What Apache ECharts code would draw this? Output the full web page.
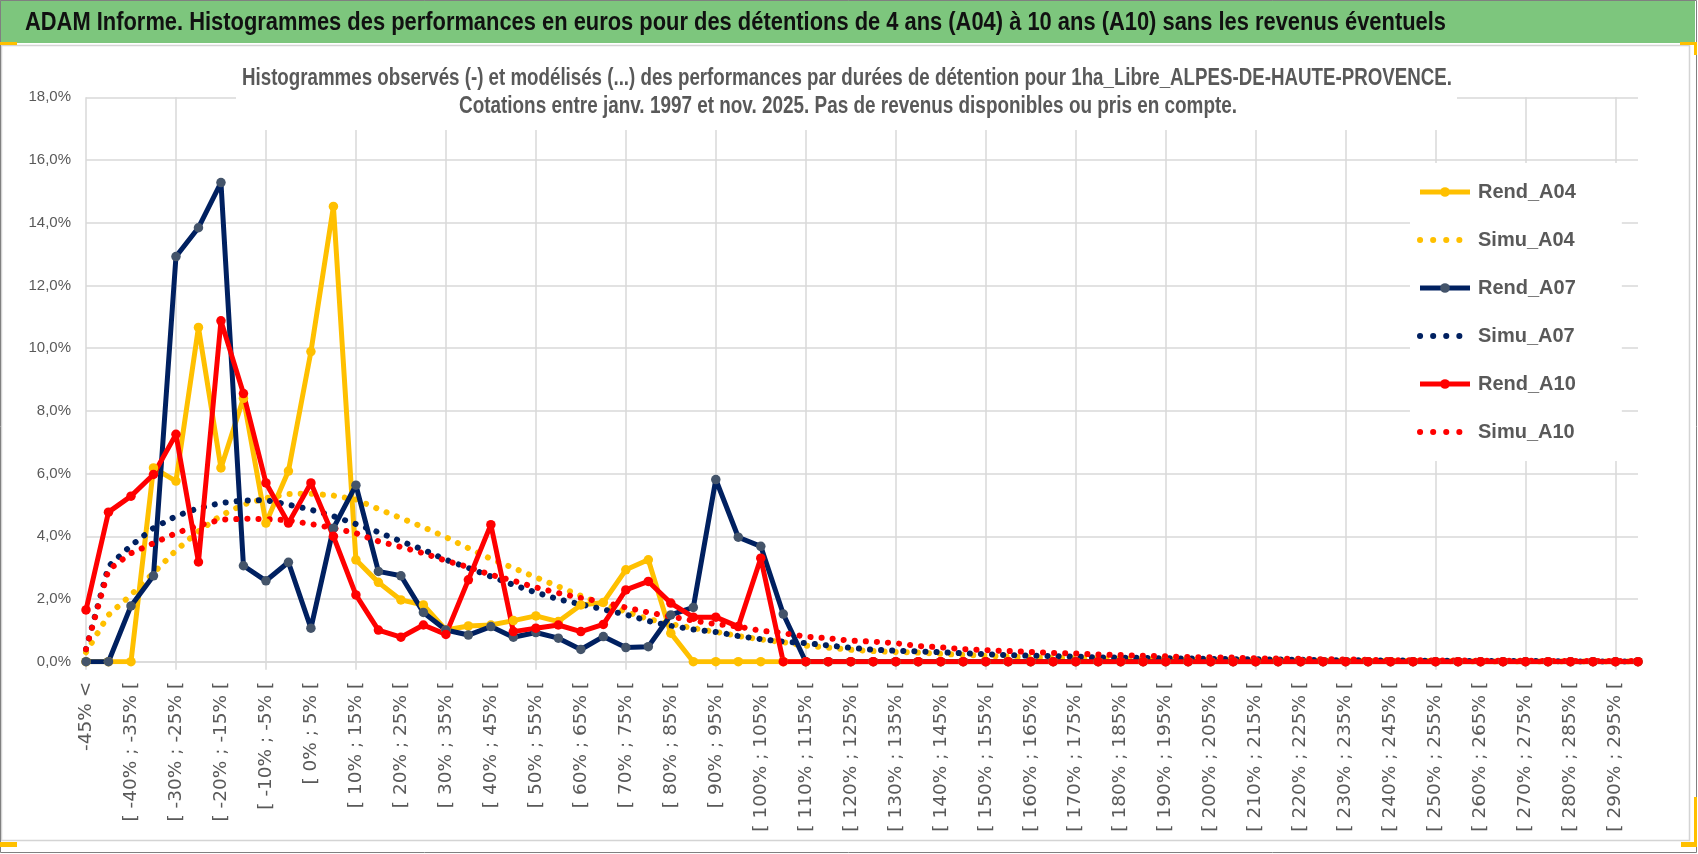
<!DOCTYPE html>
<html>
<head>
<meta charset="utf-8">
<script src="https://cdn.jsdelivr.net/npm/echarts@6/dist/echarts.min.js"></script>
<style>
  html, body { margin: 0; padding: 0; background: #fff; }
  #chart { width: 1698px; height: 854px; }
</style>
</head>
<body>
<div id="chart"></div>
<script>
// classes de performance (5 points de %)
var categories = [
  '-45% <', '[ -45% ; -40% [', '[ -40% ; -35% [', '[ -35% ; -30% [', '[ -30% ; -25% [',
  '[ -25% ; -20% [', '[ -20% ; -15% [', '[ -15% ; -10% [', '[ -10% ; -5% [', '[ -5% ; 0% [',
  '[ 0% ; 5% [', '[ 5% ; 10% [', '[ 10% ; 15% [', '[ 15% ; 20% [', '[ 20% ; 25% [',
  '[ 25% ; 30% [', '[ 30% ; 35% [', '[ 35% ; 40% [', '[ 40% ; 45% [', '[ 45% ; 50% [',
  '[ 50% ; 55% [', '[ 55% ; 60% [', '[ 60% ; 65% [', '[ 65% ; 70% [', '[ 70% ; 75% [',
  '[ 75% ; 80% [', '[ 80% ; 85% [', '[ 85% ; 90% [', '[ 90% ; 95% [', '[ 95% ; 100% [',
  '[ 100% ; 105% [', '[ 105% ; 110% [', '[ 110% ; 115% [', '[ 115% ; 120% [', '[ 120% ; 125% [',
  '[ 125% ; 130% [', '[ 130% ; 135% [', '[ 135% ; 140% [', '[ 140% ; 145% [', '[ 145% ; 150% [',
  '[ 150% ; 155% [', '[ 155% ; 160% [', '[ 160% ; 165% [', '[ 165% ; 170% [', '[ 170% ; 175% [',
  '[ 175% ; 180% [', '[ 180% ; 185% [', '[ 185% ; 190% [', '[ 190% ; 195% [', '[ 195% ; 200% [',
  '[ 200% ; 205% [', '[ 205% ; 210% [', '[ 210% ; 215% [', '[ 215% ; 220% [', '[ 220% ; 225% [',
  '[ 225% ; 230% [', '[ 230% ; 235% [', '[ 235% ; 240% [', '[ 240% ; 245% [', '[ 245% ; 250% [',
  '[ 250% ; 255% [', '[ 255% ; 260% [', '[ 260% ; 265% [', '[ 265% ; 270% [', '[ 270% ; 275% [',
  '[ 275% ; 280% [', '[ 280% ; 285% [', '[ 285% ; 290% [', '[ 290% ; 295% [', '[ 295% ; 300% ['
];

// frequences en %
var rendA04 = [0, 0, 0, 6.18, 5.76, 10.66, 6.18, 8.4, 4.42, 6.08,
  9.89, 14.52, 3.25, 2.53, 1.97, 1.81, 1.01, 1.14, 1.17, 1.31,
  1.46, 1.28, 1.81, 1.89, 2.93, 3.25, 0.91, 0, 0, 0,
  0, 0, 0, 0, 0, 0, 0, 0, 0, 0,
  0, 0, 0, 0, 0, 0, 0, 0, 0, 0,
  0, 0, 0, 0, 0, 0, 0, 0, 0, 0,
  0, 0, 0, 0, 0, 0, 0, 0, 0, 0];
var simuA04 = [0.3, 1.49, 2.13, 2.83, 3.55, 4.16, 4.66, 5.01, 5.22, 5.35,
  5.36, 5.30, 5.17, 4.87, 4.58, 4.29, 3.97, 3.62, 3.28, 2.99,
  2.69, 2.40, 2.10, 1.83, 1.60, 1.36, 1.20, 1.07, 0.95, 0.82,
  0.71, 0.62, 0.51, 0.45, 0.38, 0.34, 0.31, 0.29, 0.25, 0.22,
  0.19, 0.16, 0.14, 0.12, 0.11, 0.10, 0.09, 0.08, 0.07, 0.06,
  0.05, 0.05, 0.04, 0.04, 0.03, 0.03, 0.03, 0.02, 0.02, 0.02,
  0.02, 0.01, 0.01, 0.01, 0.01, 0.01, 0.01, 0.01, 0.01, 0.01];
var rendA07 = [0, 0, 1.78, 2.74, 12.92, 13.84, 15.28, 3.06, 2.58, 3.17,
  1.07, 4.26, 5.63, 2.88, 2.74, 1.57, 1.01, 0.85, 1.12, 0.78,
  0.93, 0.75, 0.39, 0.80, 0.45, 0.48, 1.49, 1.73, 5.81, 3.97,
  3.68, 1.52, 0, 0, 0, 0, 0, 0, 0, 0,
  0, 0, 0, 0, 0, 0, 0, 0, 0, 0,
  0, 0, 0, 0, 0, 0, 0, 0, 0, 0,
  0, 0, 0, 0, 0, 0, 0, 0, 0, 0];
var simuA07 = [0.4, 3.04, 3.70, 4.26, 4.64, 4.90, 5.06, 5.14, 5.15, 5.01,
  4.85, 4.64, 4.39, 4.13, 3.84, 3.57, 3.25, 2.99, 2.72, 2.45,
  2.21, 1.99, 1.83, 1.67, 1.50, 1.30, 1.14, 1.03, 0.95, 0.82,
  0.72, 0.64, 0.59, 0.52, 0.44, 0.38, 0.35, 0.33, 0.30, 0.27,
  0.24, 0.21, 0.19, 0.18, 0.16, 0.14, 0.13, 0.12, 0.11, 0.10,
  0.09, 0.08, 0.08, 0.07, 0.06, 0.05, 0.05, 0.04, 0.04, 0.03,
  0.03, 0.03, 0.02, 0.02, 0.02, 0.02, 0.01, 0.01, 0.01, 0.01];
var rendA10 = [1.65, 4.77, 5.28, 5.97, 7.25, 3.18, 10.87, 8.55, 5.70, 4.42,
  5.70, 4.0, 2.13, 1.01, 0.78, 1.17, 0.87, 2.61, 4.37, 0.96,
  1.07, 1.17, 0.96, 1.19, 2.29, 2.56, 1.87, 1.42, 1.42, 1.12,
  3.30, 0, 0, 0, 0, 0, 0, 0, 0, 0,
  0, 0, 0, 0, 0, 0, 0, 0, 0, 0,
  0, 0, 0, 0, 0, 0, 0, 0, 0, 0,
  0, 0, 0, 0, 0, 0, 0, 0, 0, 0];
var simuA10 = [0.4, 2.93, 3.46, 3.78, 4.10, 4.34, 4.53, 4.56, 4.55, 4.51,
  4.39, 4.26, 4.10, 3.84, 3.66, 3.46, 3.22, 3.02, 2.77, 2.58,
  2.37, 2.19, 2.03, 1.90, 1.73, 1.57, 1.44, 1.31, 1.20, 1.12,
  0.99, 0.91, 0.80, 0.75, 0.67, 0.64, 0.59, 0.50, 0.46, 0.40,
  0.37, 0.34, 0.31, 0.28, 0.26, 0.23, 0.21, 0.19, 0.17, 0.15,
  0.14, 0.13, 0.11, 0.10, 0.09, 0.08, 0.07, 0.06, 0.05, 0.05,
  0.04, 0.04, 0.03, 0.03, 0.03, 0.02, 0.02, 0.02, 0.02, 0.02];

var headerText = 'ADAM Informe. Histogrammes des performances en euros pour des détentions de 4 ans (A04) à 10 ans (A10) sans les revenus éventuels';
var titleLine1 = 'Histogrammes observés (-) et modélisés (...) des performances par durées de détention pour 1ha_Libre_ALPES-DE-HAUTE-PROVENCE.';
var titleLine2 = 'Cotations entre janv. 1997 et nov. 2025. Pas de revenus disponibles ou pris en compte.';

var GRIS = '#595959';
var GRILLE = '#d9d9d9';
var SANS = '"Liberation Sans", Arial, sans-serif';

// texte de type Calibri condense : on ecrase en largeur
var ctx = document.createElement('canvas').getContext('2d');
function squeeze(text, font, target) {
  ctx.font = font;
  return target / ctx.measureText(text).width;
}

function rend(name, data, color, markColor) {
  return {
    name: name, type: 'line', data: data,
    symbol: 'circle', symbolSize: 9.5, showSymbol: true,
    lineStyle: { color: color, width: 5 },
    itemStyle: { color: markColor },
    emphasis: { disabled: true }
  };
}
function simu(name, data, color) {
  return {
    name: name, type: 'line', data: data,
    symbol: 'none', showSymbol: false,
    lineStyle: { color: color, width: 6, type: [0.1, 11], cap: 'round' },
    itemStyle: { color: color },
    emphasis: { disabled: true }
  };
}
function legRend(name) {
  return { name: name, lineStyle: { width: 5 } };
}
function legSimu(name) {
  return {
    name: name,
    itemStyle: { color: 'rgba(0,0,0,0)', opacity: 0 },
    lineStyle: { width: 6, type: [0.1, 13], cap: 'round' }
  };
}

var chart = echarts.init(document.getElementById('chart'));
var option = {
  animation: false,
  backgroundColor: '#fff',
  graphic: [
    { type: 'rect', z: -10, shape: { x: 0, y: 0, width: 1695, height: 43 }, style: { fill: '#7dc67d' } },
    { type: 'rect', z: -10, shape: { x: 1.5, y: 45.5, width: 1688, height: 795 }, style: { fill: null, stroke: '#d4d4d4', lineWidth: 1.5 } },
    { type: 'rect', z: -10, shape: { x: 0.5, y: 0.5, width: 1696, height: 852 }, style: { fill: null, stroke: '#808080', lineWidth: 1 } },
    { type: 'rect', shape: { x: 0, y: 42, width: 17, height: 3 }, style: { fill: '#ffc000' } },
    { type: 'rect', shape: { x: 1680, y: 42, width: 17, height: 3 }, style: { fill: '#ffc000' } },
    { type: 'rect', shape: { x: 1694, y: 42, width: 3, height: 13 }, style: { fill: '#ffc000' } },
    { type: 'rect', shape: { x: 0, y: 842, width: 17, height: 5 }, style: { fill: '#ffc000' } },
    { type: 'rect', shape: { x: 1681, y: 842, width: 16, height: 5 }, style: { fill: '#ffc000' } },
    { type: 'rect', shape: { x: 1694, y: 797, width: 3, height: 50 }, style: { fill: '#ffc000' } },
    {
      type: 'text', x: 25, y: 23,
      scaleX: squeeze(headerText, 'bold 25.5px "Liberation Sans"', 1421),
      style: { text: headerText, font: 'bold 25.5px ' + SANS, fill: '#111', verticalAlign: 'middle' }
    },
    // cadre blanc du titre, par-dessus la grille
    { type: 'rect', z: 1, shape: { x: 236, y: 60, width: 1221, height: 70 }, style: { fill: '#fff' } },
    {
      type: 'text', z: 2, x: 847, y: 79,
      scaleX: squeeze(titleLine1, 'bold 23px "Liberation Sans"', 1210),
      style: { text: titleLine1, font: 'bold 23px ' + SANS, fill: GRIS, align: 'center', verticalAlign: 'middle' }
    },
    {
      type: 'text', z: 2, x: 848, y: 107,
      scaleX: squeeze(titleLine2, 'bold 23px "Liberation Sans"', 778),
      style: { text: titleLine2, font: 'bold 23px ' + SANS, fill: GRIS, align: 'center', verticalAlign: 'middle' }
    }
  ],
  legend: {
    orient: 'vertical',
    left: 1410, top: 163,
    itemWidth: 50, itemHeight: 12, itemGap: 26,
    padding: [18, 46, 18, 7],
    backgroundColor: '#fff',
    textStyle: { fontFamily: SANS, fontWeight: 'bold', fontSize: 20, lineHeight: 22, color: GRIS, padding: [0, 0, 0, 3] },
    data: [legRend('Rend_A04'), legSimu('Simu_A04'), legRend('Rend_A07'),
      legSimu('Simu_A07'), legRend('Rend_A10'), legSimu('Simu_A10')]
  },
  grid: { left: 86, right: 60, top: 97.3, bottom: 192.3, containLabel: false },
  xAxis: {
    type: 'category',
    data: categories,
    boundaryGap: false,
    axisLine: { lineStyle: { color: GRILLE, width: 1.5 } },
    axisTick: { show: true, interval: 3, length: 8, lineStyle: { color: GRILLE, width: 1.5 } },
    splitLine: { show: true, interval: 3, lineStyle: { color: GRILLE, width: 1.5 } },
    axisLabel: {
      interval: 1, rotate: 90, margin: 20,
      fontFamily: '"DejaVu Sans", sans-serif', fontSize: 18.5, color: GRIS
    }
  },
  yAxis: {
    type: 'value',
    min: 0, max: 18, interval: 2,
    axisLine: { show: false },
    axisTick: { show: false },
    splitLine: { lineStyle: { color: GRILLE, width: 1.5 } },
    axisLabel: {
      margin: 15, fontFamily: SANS, fontSize: 15, color: GRIS,
      formatter: function (v) { return v.toFixed(1).replace('.', ',') + '%'; }
    }
  },
  series: [
    rend('Rend_A04', rendA04, '#ffc000', '#ffc000'),
    simu('Simu_A04', simuA04, '#ffc000'),
    rend('Rend_A07', rendA07, '#002060', '#44546a'),
    simu('Simu_A07', simuA07, '#002060'),
    rend('Rend_A10', rendA10, '#ff0000', '#ff0000'),
    simu('Simu_A10', simuA10, '#ff0000')
  ]
};
chart.setOption(option);
</script>
</body>
</html>
